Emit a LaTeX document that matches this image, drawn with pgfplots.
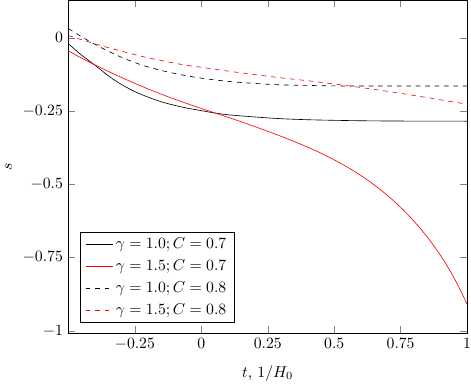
\documentclass[border=0pt]{standalone}
\usepackage{pgfplots}
\pgfplotsset{compat=1.18}

\begin{document}
\begin{tikzpicture}
\begin{axis}[
  scale only axis,
  width=254pt, height=212pt,
  xmin=-0.5, xmax=1,
  ymin=-1.008, ymax=0.1275,
  xtick={-0.25,0,0.25,0.5,0.75,1},
  ytick={-1,-0.75,-0.5,-0.25,0},
  xticklabel style={inner xsep=0pt},
  xlabel={$t$, $1/H_0$},
  xlabel style={yshift=-3pt},
  ylabel={$s$},
  legend pos=south west,
  legend cell align=left,
  legend style={row sep=1.5pt},
]
% gamma = 1.0, C = 0.7
\addplot[black, smooth] coordinates {
  (-0.5,-0.021) (-0.45,-0.060) (-0.4,-0.094) (-0.35,-0.130) (-0.3,-0.160)
  (-0.25,-0.184) (-0.2,-0.203) (-0.15,-0.219) (-0.1,-0.231) (-0.05,-0.241)
  (0,-0.249) (0.05,-0.257) (0.1,-0.263) (0.2,-0.2705) (0.3,-0.2765)
  (0.4,-0.280) (0.5,-0.282) (0.6,-0.2835) (0.7,-0.2843) (0.8,-0.2847)
  (0.9,-0.2849) (1.0,-0.285)
};
\addlegendentry{$\gamma=1.0; C=0.7$}
% gamma = 1.5, C = 0.7
\addplot[red, smooth] coordinates {
  (-0.5,-0.045) (-0.45,-0.070) (-0.4,-0.093) (-0.35,-0.115) (-0.3,-0.136)
  (-0.25,-0.156) (-0.2,-0.175) (-0.15,-0.193) (-0.1,-0.210) (-0.05,-0.226)
  (0,-0.2415) (0.05,-0.2565) (0.1,-0.2715) (0.15,-0.287) (0.2,-0.303)
  (0.25,-0.3195) (0.3,-0.3365) (0.35,-0.3545) (0.4,-0.3735) (0.45,-0.394)
  (0.5,-0.417) (0.55,-0.442) (0.6,-0.470) (0.65,-0.502) (0.7,-0.538)
  (0.75,-0.579) (0.8,-0.626) (0.85,-0.680) (0.9,-0.743) (0.95,-0.818)
  (1.0,-0.909)
};
\addlegendentry{$\gamma=1.5; C=0.7$}
% gamma = 1.0, C = 0.8
\addplot[black, dashed, smooth] coordinates {
  (-0.5,0.031) (-0.45,0.003) (-0.4,-0.023) (-0.35,-0.046) (-0.3,-0.067)
  (-0.25,-0.085) (-0.2,-0.100) (-0.15,-0.112) (-0.1,-0.122) (-0.05,-0.131)
  (0,-0.138) (0.05,-0.144) (0.1,-0.149) (0.15,-0.153) (0.2,-0.156)
  (0.25,-0.159) (0.3,-0.161) (0.4,-0.163) (0.5,-0.1645) (0.6,-0.165)
  (0.7,-0.165) (0.8,-0.165) (0.9,-0.165) (1.0,-0.165)
};
\addlegendentry{$\gamma=1.0; C=0.8$}
% gamma = 1.5, C = 0.8
\addplot[red, dashed, smooth] coordinates {
  (-0.5,0.007) (-0.45,-0.007) (-0.4,-0.021) (-0.35,-0.034) (-0.3,-0.046)
  (-0.25,-0.058) (-0.2,-0.069) (-0.15,-0.078) (-0.1,-0.087) (-0.05,-0.095)
  (0,-0.101) (0.1,-0.114) (0.2,-0.126) (0.3,-0.137) (0.4,-0.147)
  (0.5,-0.158) (0.6,-0.170) (0.7,-0.183) (0.8,-0.197) (0.9,-0.212)
  (1.0,-0.227)
};
\addlegendentry{$\gamma=1.5; C=0.8$}
\end{axis}
\end{tikzpicture}
\end{document}
